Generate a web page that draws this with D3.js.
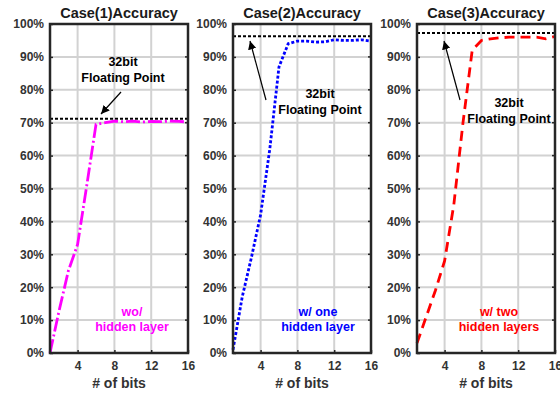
<!DOCTYPE html>
<html>
<head>
<meta charset="utf-8">
<script src="https://cdn.jsdelivr.net/npm/d3@7"></script>
<style>
  body { margin: 0; background: #fff; }
  text { font-family: "Liberation Sans", Arial, sans-serif; font-weight: bold; }
</style>
</head>
<body>
<div id="chart"></div>
<script>
// data
var bits = [1, 2, 3, 4, 5, 6, 7, 8, 9, 10, 11, 12, 13, 14, 15, 16];
var case1 = [0, 13, 25, 33, 51, 69.5, 70, 70.5, 70.3, 70.5, 70.2, 70.4, 70.3, 70.5, 70.4, 70.2];
var case2 = [1, 17, 29, 42, 62, 87, 94, 94.8, 94.8, 94.5, 94.6, 95.2, 95, 95, 95.2, 94.8];
var case3 = [3, 11, 19, 28, 45, 70, 92, 95, 95.5, 95.8, 96, 96, 96, 96, 95.5, 96.2];
var floatRef = [71.2, 96.3, 97.3];
var titles = ["Case(1)Accuracy", "Case(2)Accuracy", "Case(3)Accuracy"];
var labels = [["wo/", "hidden layer"], ["w/ one", "hidden layer"], ["w/ two", "hidden layers"]];
var xTicks = [4, 8, 12, 16];
var yTicks = [0, 10, 20, 30, 40, 50, 60, 70, 80, 90, 100];

var svgWidth = 560;
var svgHeight = 393;

var svg = d3.select("#chart")
  .append("svg")
  .attr("width", svgWidth)
  .attr("height", svgHeight);

var panels = [
  { left: 50, data: case1, color: "#ff00ff", dash: "14,3,2,3",
    txt: [123, 62], arrow: [[121, 92], [101, 114]], lab: [132, 312] },
  { left: 233, data: case2, color: "#0000ff", dash: "3,2",
    txt: [320, 94], arrow: [[266, 100], [250, 41]], lab: [318, 312] },
  { left: 417, data: case3, color: "#ff0000", dash: "10,6",
    txt: [509, 103], arrow: [[460, 100], [444, 41]], lab: [499, 312] }
];

var width = 138;
var plotTop = 24, plotBottom = 353;

svg.append("defs").append("marker")
  .attr("id", "arrow")
  .attr("viewBox", "0 0 10 10")
  .attr("refX", 10).attr("refY", 5)
  .attr("markerWidth", 7).attr("markerHeight", 7)
  .attr("orient", "auto")
  .append("path")
  .attr("d", "M0,0 L10,5 L0,10 z")
  .attr("fill", "#000");

panels.forEach(function(p, i) {
  var x = d3.scaleLinear().domain([1, 16]).range([p.left, p.left + width]);
  var y = d3.scaleLinear().domain([0, 100]).range([plotBottom, plotTop]);
  var g = svg.append("g");

  // grid
  g.selectAll(".gx").data(xTicks).enter().append("line")
    .attr("x1", d => x(d)).attr("x2", d => x(d))
    .attr("y1", plotTop).attr("y2", plotBottom)
    .attr("stroke", "#d2d2d2").attr("stroke-width", 2);
  g.selectAll(".gy").data(yTicks).enter().append("line")
    .attr("x1", p.left).attr("x2", p.left + width)
    .attr("y1", d => y(d)).attr("y2", d => y(d))
    .attr("stroke", "#d2d2d2").attr("stroke-width", 2);

  // axes
  var xAxis = d3.axisBottom(x).tickValues(xTicks).tickSize(-3).tickPadding(8);
  var yAxis = d3.axisLeft(y).tickValues(yTicks).tickSize(-3).tickPadding(6)
    .tickFormat(d => d + "%");
  var ax = g.append("g").attr("transform", `translate(0, ${plotBottom})`).call(xAxis);
  var ay = g.append("g").attr("transform", `translate(${p.left}, 0)`).call(yAxis);
  [ax, ay].forEach(function(a) {
    a.select(".domain").remove();
    a.selectAll(".tick line").attr("stroke", "#262626").attr("stroke-width", 1.5);
    a.selectAll("text").attr("fill", "#333").style("font-size", "12px");
  });
  // right side ticks
  g.selectAll(".ry").data(yTicks).enter().append("line")
    .attr("x1", p.left + width).attr("x2", p.left + width - 3)
    .attr("y1", d => y(d)).attr("y2", d => y(d))
    .attr("stroke", "#262626").attr("stroke-width", 1.5);

  // 32bit reference
  g.append("line")
    .attr("x1", p.left).attr("x2", p.left + width)
    .attr("y1", y(floatRef[i])).attr("y2", y(floatRef[i]))
    .attr("stroke", "#000").attr("stroke-width", 2)
    .attr("stroke-dasharray", "3,2");

  // data line
  var line = d3.line().x((d, j) => x(bits[j])).y(d => y(d));
  g.append("path")
    .datum(p.data)
    .attr("d", line)
    .attr("fill", "none")
    .attr("stroke", p.color)
    .attr("stroke-width", 2.8)
    .attr("stroke-dasharray", p.dash);

  // frame
  g.append("rect")
    .attr("x", p.left).attr("y", plotTop)
    .attr("width", width).attr("height", plotBottom - plotTop)
    .attr("fill", "none").attr("stroke", "#262626").attr("stroke-width", 2.5);

  // title
  g.append("text")
    .attr("x", p.left + width / 2).attr("y", 18)
    .attr("text-anchor", "middle")
    .style("font-size", "14.5px").attr("fill", "#1a1a1a")
    .text(titles[i]);

  // x label
  g.append("text")
    .attr("x", p.left + width / 2).attr("y", 388)
    .attr("text-anchor", "middle")
    .style("font-size", "14px").attr("fill", "#333")
    .text("# of bits");

  // annotation
  g.append("text")
    .attr("x", p.txt[0]).attr("y", p.txt[1] + 4)
    .attr("text-anchor", "middle")
    .style("font-size", "12.5px").attr("fill", "#000")
    .text("32bit");
  g.append("text")
    .attr("x", p.txt[0]).attr("y", p.txt[1] + 20)
    .attr("text-anchor", "middle")
    .style("font-size", "12.5px").attr("fill", "#000")
    .text("Floating Point");
  g.append("line")
    .attr("x1", p.arrow[0][0]).attr("y1", p.arrow[0][1])
    .attr("x2", p.arrow[1][0]).attr("y2", p.arrow[1][1])
    .attr("stroke", "#000").attr("stroke-width", 1.2)
    .attr("marker-end", "url(#arrow)");

  // series label
  labels[i].forEach(function(t, k) {
    g.append("text")
      .attr("x", p.lab[0]).attr("y", p.lab[1] + 4 + k * 15)
      .attr("text-anchor", "middle")
      .style("font-size", "12.5px").attr("fill", p.color)
      .text(t);
  });
});
</script>
</body>
</html>
